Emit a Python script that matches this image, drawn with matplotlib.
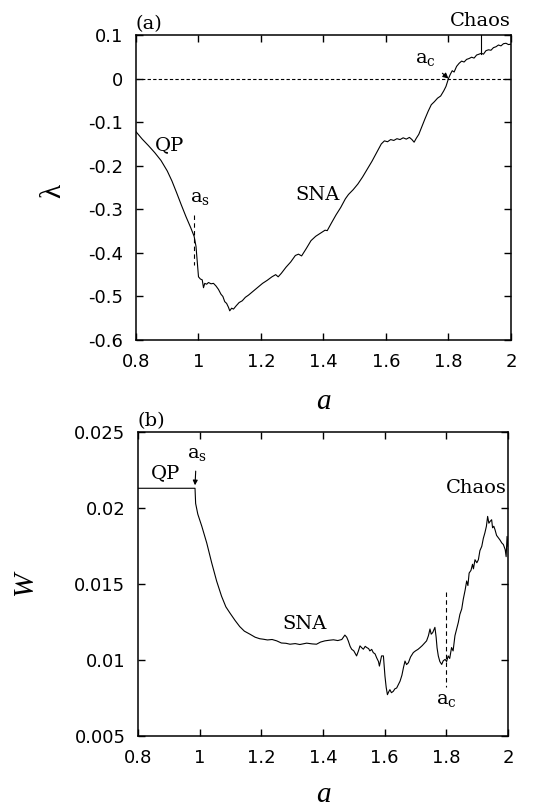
import numpy as np
import matplotlib.pyplot as plt

plt.rcParams['font.family'] = 'DejaVu Sans'
plt.rcParams['axes.unicode_minus'] = False
plt.rcParams['mathtext.fontset'] = 'dejavuserif'

# (a) Lyapunov exponent against a
a_lam = [0.800, 0.820, 0.840, 0.860, 0.880, 0.900, 0.915, 0.930, 0.945, 0.960,
         0.975, 0.986, 0.992, 0.996, 1.000, 1.006, 1.012, 1.016, 1.020, 1.026,
         1.032, 1.040, 1.048, 1.056, 1.064, 1.072, 1.078, 1.084, 1.090, 1.096,
         1.100, 1.106, 1.112, 1.120, 1.130, 1.140, 1.150, 1.160, 1.175, 1.190,
         1.205, 1.220, 1.235, 1.247, 1.255, 1.265, 1.280, 1.295, 1.310, 1.320,
         1.330, 1.345, 1.360, 1.375, 1.390, 1.405, 1.412, 1.425, 1.440, 1.455,
         1.470, 1.480, 1.495, 1.510, 1.525, 1.540, 1.555, 1.570, 1.585, 1.595,
         1.605, 1.615, 1.625, 1.635, 1.645, 1.655, 1.665, 1.675, 1.683, 1.690,
         1.697, 1.705, 1.715, 1.725, 1.735, 1.745, 1.755, 1.765, 1.775, 1.785,
         1.792, 1.800, 1.806, 1.812, 1.818, 1.826, 1.834, 1.842, 1.850, 1.858,
         1.866, 1.874, 1.882, 1.890, 1.898, 1.905, 1.912, 1.920, 1.928, 1.936,
         1.944, 1.952, 1.960, 1.968, 1.976, 1.984, 1.992, 2.000]
lam = [-0.122, -0.139, -0.154, -0.170, -0.188, -0.212, -0.235, -0.262, -0.290, -0.317,
       -0.342, -0.362, -0.385, -0.420, -0.455, -0.460, -0.462, -0.480, -0.470, -0.472,
       -0.468, -0.471, -0.470, -0.476, -0.484, -0.495, -0.500, -0.512, -0.516, -0.525,
       -0.533, -0.527, -0.529, -0.522, -0.514, -0.510, -0.502, -0.497, -0.488, -0.479,
       -0.470, -0.463, -0.455, -0.450, -0.455, -0.447, -0.433, -0.421, -0.406, -0.403,
       -0.407, -0.390, -0.372, -0.362, -0.355, -0.348, -0.349, -0.332, -0.313, -0.296,
       -0.276, -0.266, -0.255, -0.242, -0.226, -0.208, -0.190, -0.170, -0.150, -0.143,
       -0.145, -0.140, -0.142, -0.138, -0.140, -0.136, -0.139, -0.135, -0.140, -0.146,
       -0.137, -0.128, -0.110, -0.092, -0.075, -0.060, -0.053, -0.045, -0.040, -0.028,
       -0.018, 0.000, 0.010, 0.018, 0.015, 0.028, 0.035, 0.040, 0.038, 0.044,
       0.046, 0.049, 0.047, 0.054, 0.056, 0.058, 0.056, 0.064, 0.066, 0.065,
       0.071, 0.073, 0.077, 0.075, 0.080, 0.081, 0.078, 0.079]

# (b) W against a
a_w = [0.800, 0.985, 0.987, 0.994, 1.007, 1.023, 1.039, 1.055, 1.071, 1.085,
       1.098, 1.115, 1.130, 1.145, 1.163, 1.180, 1.195, 1.206, 1.220, 1.235,
       1.250, 1.265, 1.280, 1.293, 1.310, 1.325, 1.347, 1.365, 1.379, 1.392,
       1.406, 1.420, 1.434, 1.448, 1.461, 1.471, 1.477, 1.482, 1.488, 1.493,
       1.500, 1.509, 1.515, 1.520, 1.526, 1.531, 1.537, 1.542, 1.548, 1.552,
       1.558, 1.563, 1.569, 1.574, 1.580, 1.583, 1.587, 1.590, 1.596, 1.601,
       1.605, 1.609, 1.613, 1.617, 1.622, 1.628, 1.633, 1.639, 1.645, 1.650,
       1.656, 1.661, 1.666, 1.671, 1.677, 1.684, 1.693, 1.700, 1.708, 1.715,
       1.722, 1.729, 1.736, 1.742, 1.747, 1.751, 1.756, 1.760, 1.763, 1.767,
       1.770, 1.774, 1.779, 1.785, 1.790, 1.796, 1.801, 1.806, 1.811, 1.817,
       1.822, 1.828, 1.833, 1.839, 1.844, 1.850, 1.855, 1.861, 1.866, 1.870,
       1.874, 1.880, 1.885, 1.888, 1.893, 1.899, 1.904, 1.909, 1.915, 1.920,
       1.925, 1.930, 1.934, 1.938, 1.942, 1.947, 1.950, 1.954, 1.958, 1.963,
       1.969, 1.974, 1.980, 1.985, 1.991, 1.994, 1.997, 2.000]
w = [0.0213, 0.0213, 0.0203, 0.0196, 0.0188, 0.0177, 0.0164, 0.0152, 0.0142, 0.0135,
     0.0131, 0.0126, 0.0122, 0.0119, 0.0117, 0.0115, 0.0114, 0.01137, 0.01132, 0.01135,
     0.01126, 0.01112, 0.01110, 0.01104, 0.01108, 0.01102, 0.01111, 0.01106, 0.01104, 0.01118,
     0.01126, 0.01130, 0.01133, 0.01128, 0.01135, 0.01164, 0.01150, 0.01126, 0.01090, 0.01071,
     0.01060, 0.01027, 0.01060, 0.01093, 0.01080, 0.01071, 0.01090, 0.01082, 0.01075, 0.01060,
     0.01070, 0.01049, 0.01040, 0.01015, 0.00990, 0.00960, 0.01000, 0.01027, 0.01027, 0.00894,
     0.00820, 0.00772, 0.00790, 0.00805, 0.00785, 0.00794, 0.00810, 0.00816, 0.00840, 0.00861,
     0.00900, 0.00950, 0.00993, 0.00970, 0.00982, 0.01020, 0.01049, 0.01060, 0.01070, 0.01082,
     0.01095, 0.01110, 0.01126, 0.01160, 0.01204, 0.01170, 0.01181, 0.01200, 0.01215, 0.01150,
     0.01080, 0.01027, 0.00990, 0.00971, 0.00995, 0.01004, 0.00990, 0.01027, 0.01010, 0.01082,
     0.01060, 0.01160, 0.01200, 0.01248, 0.01300, 0.01336, 0.01400, 0.01460, 0.01520, 0.01490,
     0.01572, 0.01590, 0.01630, 0.01600, 0.01660, 0.01640, 0.01660, 0.01720, 0.01748, 0.01800,
     0.01836, 0.01880, 0.01945, 0.01900, 0.01912, 0.01923, 0.01870, 0.01880, 0.01857, 0.01820,
     0.01803, 0.01790, 0.01770, 0.01760, 0.01726, 0.01680, 0.01813, 0.01748]

a_s = 0.986
a_c = 1.8
a_chaos = 1.905

serif = 'DejaVu Serif'
lab_font = dict(family='Liberation Serif', style='italic', fontsize=21)
ann = dict(family=serif, fontsize=14)

fig = plt.figure(figsize=(5.35, 8.08), dpi=100)
ax1 = fig.add_axes([0.2542, 0.5792, 0.7009, 0.3775])
ax2 = fig.add_axes([0.2579, 0.0891, 0.6916, 0.3762])

for ax in (ax1, ax2):
    ax.tick_params(direction='in', length=5, width=1, top=True, right=True,
                   labelsize=13, pad=9)
    for sp in ax.spines.values():
        sp.set_linewidth(1.1)
    ax.set_xlim(0.8, 2.0)
    ax.set_xticks([0.8, 1.0, 1.2, 1.4, 1.6, 1.8, 2.0])
    ax.set_xticklabels(['0.8', '1', '1.2', '1.4', '1.6', '1.8', '2'])

# panel (a)
ax1.plot(a_lam, lam, color='black', lw=0.8)
ax1.axhline(0, color='black', lw=0.8, ls=(0, (3, 2)))
ax1.set_ylim(-0.6, 0.1)
ax1.set_yticks(np.arange(-0.6, 0.11, 0.1))
ax1.set_yticklabels(['-0.6', '-0.5', '-0.4', '-0.3', '-0.2', '-0.1', '0', '0.1'])
ax1.set_xlabel('a', **lab_font)
ax1.xaxis.set_label_coords(0.5, -0.16)
ax1.set_ylabel('\u03bb', family='Liberation Serif', fontsize=21)
ax1.yaxis.set_label_coords(-0.185, 0.49)

ax1.text(0.0, 1.005, '(a)', transform=ax1.transAxes, ha='left', va='bottom', **ann)
ax1.text(1.0, 1.015, 'Chaos', transform=ax1.transAxes, ha='right', va='bottom', **ann)
ax1.plot([a_chaos, a_chaos], [0.1, 0.057], color='black', lw=0.8)
ax1.text(0.909, -0.152, 'QP', ha='center', va='center', **ann)
ax1.text(1.005, -0.272, r'$\mathrm{a_s}$', ha='center', va='center', fontsize=14)
ax1.plot([a_s, a_s], [-0.313, -0.428], color='black', lw=0.8, ls=(0, (4, 3)))
ax1.text(1.38, -0.267, 'SNA', ha='center', va='center', **ann)
ax1.annotate(r'$\mathrm{a_c}$', xy=(a_c, 0.0), xytext=(1.725, 0.047),
             ha='center', va='center', fontsize=14,
             arrowprops=dict(arrowstyle='-|>', color='black', lw=0.8,
                             mutation_scale=8, shrinkA=4, shrinkB=0))

# panel (b)
ax2.plot(a_w, w, color='black', lw=0.8)
ax2.set_ylim(0.005, 0.025)
ax2.set_yticks([0.005, 0.01, 0.015, 0.02, 0.025])
ax2.set_yticklabels(['0.005', '0.01', '0.015', '0.02', '0.025'])
ax2.set_xlabel('a', **lab_font)
ax2.xaxis.set_label_coords(0.5, -0.15)
ax2.set_ylabel('W', **lab_font)
ax2.yaxis.set_label_coords(-0.27, 0.5)

ax2.text(0.0, 1.005, '(b)', transform=ax2.transAxes, ha='left', va='bottom', **ann)
ax2.text(0.888, 0.0223, 'QP', ha='center', va='center', **ann)
ax2.annotate(r'$\mathrm{a_s}$', xy=(0.985, 0.0215), xytext=(0.99, 0.0236),
             ha='center', va='center', fontsize=14,
             arrowprops=dict(arrowstyle='-|>', color='black', lw=0.8,
                             mutation_scale=7, shrinkA=4, shrinkB=0))
ax2.text(1.34, 0.0124, 'SNA', ha='center', va='center', **ann)
ax2.text(1.995, 0.0213, 'Chaos', ha='right', va='center', **ann)
ax2.plot([a_c, a_c], [0.0145, 0.0082], color='black', lw=0.8, ls=(0, (4, 3)))
ax2.text(a_c, 0.0074, r'$\mathrm{a_c}$', ha='center', va='center', fontsize=14)

fig.savefig('out.png', dpi=100)
